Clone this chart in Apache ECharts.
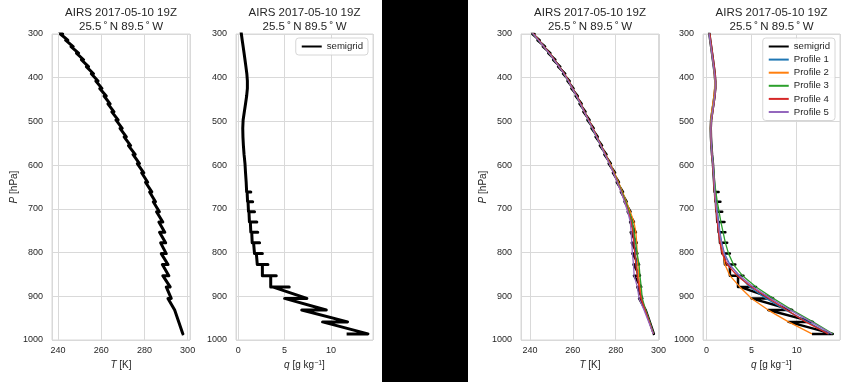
<!DOCTYPE html>
<html><head><meta charset="utf-8">
<script src="https://cdn.jsdelivr.net/npm/echarts@6/dist/echarts.min.js"></script>
<style>html,body{margin:0;padding:0;background:#fff}#c{width:850px;height:382px}</style>
</head><body><div id="c"></div>
<script>
// AIRS support pressure levels (hPa)
const pressureLevels = [286.26,300.0,314.14,328.68,343.62,358.97,374.72,390.89,407.47,424.47,441.88,459.71,477.96,496.63,515.72,535.23,555.17,575.52,596.31,617.51,639.14,661.19,683.67,706.57,729.89,753.63,777.79,802.37,827.37,852.79,878.62,904.87,931.52,958.59,986.07];

// Temperature profiles (K)
const tProfile1 = [239.3,241.6,244.0,246.5,249.0,251.3,253.6,255.9,258.0,259.8,261.8,263.6,265.4,267.3,269.2,271.1,273.1,275.2,277.2,279.2,281.0,282.9,284.6,286.2,287.6,288.2,288.8,289.2,289.7,290.3,291.0,292.0,293.8,295.8,297.6];
const tProfile2 = [239.4,241.7,244.1,246.4,249.1,251.4,253.5,256.0,258.1,259.7,261.9,263.7,265.3,267.4,269.3,271.2,273.2,275.3,277.4,279.4,281.3,283.2,285.0,286.8,288.5,289.4,289.8,290.0,290.3,290.7,291.3,292.0,293.8,295.7,297.5];
const tProfile3 = [239.2,241.5,243.9,246.6,248.9,251.2,253.7,255.8,257.9,259.9,261.7,263.5,265.5,267.2,269.1,271.0,273.0,275.1,277.1,279.1,281.0,282.9,284.7,286.3,287.8,288.6,289.3,290.0,290.9,291.3,291.9,292.4,294.0,295.9,297.7];
const tProfile4 = [239.4,241.7,244.1,246.6,249.1,251.4,253.7,256.0,258.1,259.9,261.9,263.7,265.5,267.4,269.3,271.2,273.1,275.2,277.1,279.0,280.8,282.6,284.3,285.9,287.2,288.0,288.5,288.9,289.4,290.0,290.9,291.8,293.7,295.7,297.6];
const tProfile5 = [239.2,241.5,243.9,246.4,248.9,251.2,253.5,255.8,257.9,259.7,261.7,263.5,265.3,267.2,269.1,271.0,273.0,275.0,277.0,278.9,280.7,282.5,284.1,285.6,286.8,287.2,287.5,287.8,288.3,288.6,290.1,290.9,293.2,295.4,297.5];
// Temperature semigrid: first and second point at each level
const tSemiA = [239.8,242.1,244.5,247.0,249.5,251.8,254.1,256.4,258.5,260.3,262.3,264.1,265.9,267.8,269.7,271.6,273.6,275.7,277.7,279.7,281.5,283.4,285.1,286.9,288.5,289.4,289.8,290.1,290.9,291.3,291.9,292.4,294.0,295.9,297.8];
const tSemiB = [238.8,241.1,243.5,246.0,248.5,250.8,253.1,255.4,257.5,259.3,261.3,263.1,264.9,266.8,268.7,270.6,272.6,274.7,276.7,278.7,280.5,282.4,284.1,285.6,286.7,287.0,287.5,287.8,288.3,288.5,290.1,290.9,293.2,295.4,297.3];

// Specific humidity profiles (g/kg)
const qProfile1 = [0.25,0.33,0.42,0.52,0.62,0.72,0.82,0.92,0.98,0.98,0.9,0.78,0.65,0.52,0.48,0.5,0.55,0.62,0.72,0.78,0.85,0.95,1.05,1.2,1.35,1.5,1.7,2.0,2.6,3.6,4.8,6.6,8.8,11.2,13.6];
const qProfile2 = [0.24,0.32,0.41,0.5,0.6,0.7,0.8,0.88,0.92,0.9,0.82,0.7,0.58,0.47,0.45,0.48,0.54,0.61,0.7,0.77,0.84,0.9,1.0,1.1,1.25,1.4,1.6,1.85,2.05,2.6,3.7,5.0,6.85,9.1,11.7];
const qProfile3 = [0.25,0.33,0.43,0.53,0.63,0.73,0.83,0.93,0.99,0.98,0.9,0.79,0.66,0.53,0.49,0.51,0.56,0.64,0.74,0.82,0.9,1.05,1.2,1.4,1.6,1.85,2.1,2.45,3.0,4.0,5.5,7.4,9.5,11.8,14.0];
const qProfile4 = [0.29,0.38,0.47,0.57,0.67,0.77,0.87,0.97,1.02,1.02,0.95,0.83,0.7,0.57,0.5,0.51,0.55,0.62,0.71,0.77,0.84,0.9,1.0,1.1,1.2,1.35,1.5,1.75,2.3,3.4,5.0,6.9,8.9,11.0,13.5];
const qProfile5 = [0.22,0.3,0.4,0.5,0.6,0.7,0.8,0.9,0.97,0.98,0.92,0.8,0.67,0.54,0.49,0.5,0.55,0.62,0.72,0.79,0.86,0.92,1.02,1.15,1.3,1.45,1.65,1.95,2.5,3.7,5.2,7.1,9.3,11.6,13.9];
// Humidity semigrid: three points at each level
const qSemiA = [0.25,0.33,0.42,0.52,0.62,0.72,0.82,0.92,0.98,0.98,0.9,0.78,0.65,0.52,0.48,0.5,0.55,0.62,0.72,0.78,0.85,0.9,1.0,1.1,1.2,1.35,1.5,1.75,2.05,2.6,3.5,7.4,9.5,11.8,14.0];
const qSemiB = [0.43,0.51,0.6,0.7,0.8,0.9,1.0,1.1,1.16,1.16,1.08,0.96,0.83,0.7,0.66,0.68,0.73,0.8,0.9,0.96,1.05,1.35,1.55,1.75,2.0,2.1,2.3,2.6,3.2,4.1,5.5,5.0,6.85,9.1,11.7];
const qSemiC = [0.19,0.27,0.36,0.46,0.56,0.66,0.76,0.86,0.92,0.92,0.84,0.72,0.59,0.46,0.42,0.44,0.49,0.56,0.66,0.72,0.79,0.95,1.05,1.15,1.3,1.45,1.65,1.95,2.6,3.5,3.7,5.0,6.85,9.1,11.7];

const profileNames = ['Profile 1','Profile 2','Profile 3','Profile 4','Profile 5'];
const profileColors = ['#1f77b4','#ff7f0e','#2ca02c','#d62728','#9467bd'];
const titleText = 'AIRS 2017-05-10 19Z\n25.5\u2009˚\u2009N 89.5\u2009˚\u2009W';

function semigrid(a, b, c) {
  const pts = [];
  pressureLevels.forEach((p, i) => {
    pts.push([a[i], p]); pts.push([b[i], p]);
    if (c) pts.push([c[i], p]);
  });
  return pts;
}
function profile(v) { return pressureLevels.map((p, i) => [v[i], p]); }

const FONT = 'Liberation Sans';
const TXT = '#262626';
const GRIDC = '#d9d9d9';

const grids = [
  {left: 52, top: 34, width: 138, height: 306},
  {left: 236, top: 34, width: 137, height: 306},
  {left: 521, top: 34, width: 138, height: 306},
  {left: 703, top: 34, width: 137, height: 306}
].map(g => Object.assign(g, {show: true, borderColor: GRIDC, borderWidth: 1, containLabel: false}));

function xAx(idx, min, max, step, name) {
  return {
    type: 'value', gridIndex: idx, min: min, max: max, minInterval: step, maxInterval: step,
    axisLine: {show: false}, axisTick: {show: false},
    splitLine: {show: true, lineStyle: {color: GRIDC, width: 1}},
    axisLabel: {fontSize: 9, color: TXT, fontFamily: FONT, margin: 6,
      formatter: v => Math.abs(v / step - Math.round(v / step)) < 1e-6 ? String(Math.round(v)) : ''},
    name: name, nameLocation: 'middle', nameGap: 17,
    nameTextStyle: {fontSize: 10, color: TXT, fontFamily: FONT,
      rich: {i: {fontStyle: 'italic', fontSize: 10, color: TXT, fontFamily: FONT},
             s: {fontSize: 7, color: TXT, fontFamily: FONT, verticalAlign: 'top'}}}
  };
}
function yAx(idx, withName) {
  return {
    type: 'value', gridIndex: idx, inverse: true, min: 300, max: 1000, interval: 100,
    axisLine: {show: false}, axisTick: {show: false},
    splitLine: {show: true, lineStyle: {color: GRIDC, width: 1}},
    axisLabel: {fontSize: 9, color: TXT, fontFamily: FONT, margin: 9, formatter: v => String(v)},
    name: withName ? '{i|P} [hPa]' : '', nameLocation: 'middle', nameGap: 30,
    nameTextStyle: {fontSize: 10, color: TXT, fontFamily: FONT,
      rich: {i: {fontStyle: 'italic', fontSize: 10, color: TXT, fontFamily: FONT}}}
  };
}

const lineBase = {type: 'line', symbol: 'none', silent: true, animation: false, clip: true};
const series = [
  Object.assign({}, lineBase, {name: 'semigrid', xAxisIndex: 0, yAxisIndex: 0, data: semigrid(tSemiA, tSemiB),
    color: '#000', lineStyle: {color: '#000', width: 3, join: 'round'}}),
  Object.assign({}, lineBase, {name: 'semigrid', xAxisIndex: 1, yAxisIndex: 1, data: semigrid(qSemiA, qSemiB, qSemiC),
    color: '#000', lineStyle: {color: '#000', width: 3, join: 'round'}}),
  Object.assign({}, lineBase, {name: 'semigrid', xAxisIndex: 2, yAxisIndex: 2, data: semigrid(tSemiA, tSemiB),
    color: '#000', lineStyle: {color: '#000', width: 2.5, join: 'round'}}),
  Object.assign({}, lineBase, {name: 'semigrid', xAxisIndex: 3, yAxisIndex: 3, data: semigrid(qSemiA, qSemiB, qSemiC),
    color: '#000', lineStyle: {color: '#000', width: 2.5, join: 'round'}})
];
const tProfiles = [tProfile1, tProfile2, tProfile3, tProfile4, tProfile5];
const qProfiles = [qProfile1, qProfile2, qProfile3, qProfile4, qProfile5];
tProfiles.forEach((v, k) => series.push(Object.assign({}, lineBase, {name: profileNames[k], xAxisIndex: 2, yAxisIndex: 2,
  data: profile(v), color: profileColors[k], lineStyle: {color: profileColors[k], width: 1.3}})));
qProfiles.forEach((v, k) => series.push(Object.assign({}, lineBase, {name: profileNames[k], xAxisIndex: 3, yAxisIndex: 3,
  data: profile(v), color: profileColors[k], lineStyle: {color: profileColors[k], width: 1.3}})));

const titleStyle = {fontSize: 11.5, lineHeight: 13.5, fontWeight: 'normal', color: TXT, fontFamily: FONT};
const centers = [121, 304.5, 590, 771.5];
const legendBase = {selectedMode: false, itemWidth: 20, itemHeight: 10, borderColor: '#cccccc', borderWidth: 0.8,
  borderRadius: 3, backgroundColor: 'rgba(255,255,255,0.85)', padding: [3.5, 5, 3.5, 5],
  itemStyle: {opacity: 0, borderWidth: 0}, lineStyle: {opacity: 1},
  textStyle: {fontSize: 9.6, color: TXT, fontFamily: FONT}};

const option = {
  animation: false,
  backgroundColor: '#ffffff',
  textStyle: {fontFamily: FONT},
  title: centers.map(c => ({text: titleText, left: c, top: 6.5, textAlign: 'center', padding: 0, textStyle: titleStyle})),
  grid: grids,
  xAxis: [
    xAx(0, 237.2, 301.1, 20, '{i|T} [K]'),
    xAx(1, -0.25, 14.55, 5, '{i|q} [g kg{s|\u22121}]'),
    xAx(2, 235.8, 300.2, 20, '{i|T} [K]'),
    xAx(3, -0.38, 14.8, 5, '{i|q} [g kg{s|\u22121}]')
  ],
  yAxis: [yAx(0, true), yAx(1, false), yAx(2, true), yAx(3, false)],
  legend: [
    Object.assign({}, legendBase, {data: ['semigrid'], right: 482, top: 38, orient: 'vertical'}),
    Object.assign({}, legendBase, {data: ['semigrid'].concat(profileNames), right: 15, top: 38, orient: 'vertical', itemGap: 3.1})
  ],
  series: series,
  graphic: [{type: 'rect', shape: {x: 382, y: 0, width: 86, height: 382}, style: {fill: '#000'}, z: 100, silent: true}]
};
const chart = echarts.init(document.getElementById('c'), null, {renderer: 'canvas'});
chart.setOption(option);
</script></body></html>
